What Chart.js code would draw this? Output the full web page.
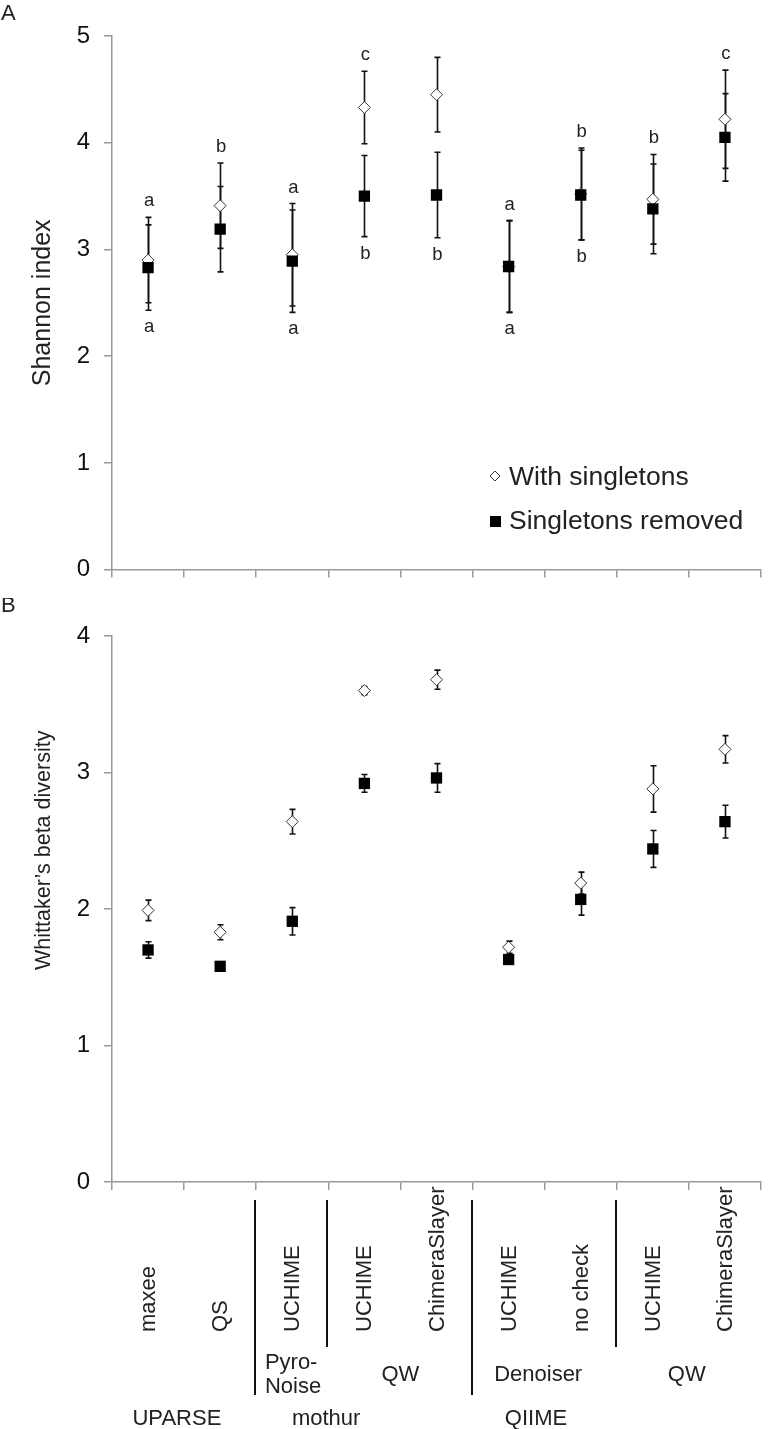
<!DOCTYPE html>
<html>
<head>
<meta charset="utf-8">
<title>Shannon index and Whittaker's beta diversity</title>
<script src="https://cdn.jsdelivr.net/npm/chart.js@4/dist/chart.umd.min.js"></script>
<style>
  body { margin: 0; background: #fff; }
  #wrap { position: relative; width: 769px; height: 1429px; }
  canvas { position: absolute; left: 0; }
  #shannonChart { top: 0; }
  #betaChart { top: 598px; }
</style>
</head>
<body>
<div id="wrap">
  <canvas id="shannonChart" width="769" height="598"></canvas>
  <canvas id="betaChart" width="769" height="831"></canvas>
</div>
<script>
// Data
const categories = ['maxee', 'QS', 'UCHIME', 'UCHIME', 'ChimeraSlayer', 'UCHIME', 'no check', 'UCHIME', 'ChimeraSlayer'];
const subgroupNames = ['Pyro-\nNoise', 'QW', 'Denoiser', 'QW'];
const pipelineNames = ['UPARSE', 'mothur', 'QIIME'];

// A: Shannon index
const shannonWith = [2.90, 3.41, 2.95, 4.33, 4.45, 2.84, 3.52, 3.47, 4.22];
const shannonWithErr = [0.40, 0.40, 0.48, 0.34, 0.35, 0.43, 0.43, 0.42, 0.46];
const shannonRemoved = [2.83, 3.19, 2.89, 3.50, 3.51, 2.84, 3.51, 3.38, 4.05];
const shannonRemovedErr = [0.40, 0.40, 0.48, 0.38, 0.40, 0.43, 0.42, 0.42, 0.41];
const lettersAbove = ['a', 'b', 'a', 'c', '', 'a', 'b', 'b', 'c'];
const lettersBelow = ['a', '', 'a', 'b', 'b', 'a', 'b', '', ''];

// B: Whittaker's beta diversity
const betaWith = [1.99, 1.83, 2.64, 3.60, 3.68, 1.72, 2.19, 2.88, 3.17];
const betaWithErr = [0.075, 0.055, 0.09, 0.03, 0.07, 0.045, 0.08, 0.17, 0.10];
const betaRemoved = [1.70, 1.58, 1.91, 2.92, 2.96, 1.63, 2.07, 2.44, 2.64];
const betaRemovedErr = [0.06, 0.02, 0.10, 0.065, 0.105, 0.03, 0.115, 0.135, 0.12];

const FONT = "'Liberation Sans', Arial, sans-serif";
const TEXT = '#222';
const AXIS = '#9a9a9a';

// error bars go under the markers
const errorBars = {
    id: 'errorBars',
    beforeDatasetsDraw(chart) {
        const { ctx } = chart;
        const x = chart.scales.x, y = chart.scales.y;
        ctx.save();
        ctx.strokeStyle = '#111';
        ctx.lineWidth = 1.6;
        chart.data.datasets.forEach(ds => {
            ds.data.forEach((v, i) => {
                const e = ds.errors[i];
                const px = Math.round(x.getPixelForValue(i)) + 0.5;
                const top = y.getPixelForValue(v + e);
                const bot = y.getPixelForValue(v - e);
                ctx.beginPath();
                ctx.moveTo(px, top); ctx.lineTo(px, bot);
                ctx.moveTo(px - 3, top); ctx.lineTo(px + 3, top);
                ctx.moveTo(px - 3, bot); ctx.lineTo(px + 3, bot);
                ctx.stroke();
            });
        });
        ctx.restore();
    }
};

// panel letter + rotated y title
const panelText = {
    id: 'panelText',
    afterDraw(chart, args, opts) {
        const { ctx } = chart;
        const y = chart.scales.y;
        ctx.save();
        ctx.fillStyle = TEXT;
        ctx.font = `22px ${FONT}`;
        ctx.textAlign = 'left';
        ctx.textBaseline = 'alphabetic';
        ctx.fillText(opts.letter, 1, opts.letterY);

        ctx.font = `${opts.titleSize}px ${FONT}`;
        ctx.translate(opts.titleX, y.getPixelForValue(opts.titleAt));
        ctx.rotate(-Math.PI / 2);
        ctx.textAlign = 'center';
        ctx.fillText(opts.title, 0, 0);
        ctx.restore();
    }
};

// a/b/c letters of panel A
const sigLetters = {
    id: 'sigLetters',
    afterDraw(chart) {
        const { ctx } = chart;
        const x = chart.scales.x, y = chart.scales.y;
        ctx.save();
        ctx.fillStyle = TEXT;
        ctx.font = `18.5px ${FONT}`;
        ctx.textAlign = 'center';
        ctx.textBaseline = 'alphabetic';
        categories.forEach((c, i) => {
            const px = x.getPixelForValue(i) + 1;
            const hi = Math.max(shannonWith[i] + shannonWithErr[i], shannonRemoved[i] + shannonRemovedErr[i]);
            const lo = Math.min(shannonWith[i] - shannonWithErr[i], shannonRemoved[i] - shannonRemovedErr[i]);
            if (lettersAbove[i]) ctx.fillText(lettersAbove[i], px, y.getPixelForValue(hi) - 11);
            if (lettersBelow[i]) ctx.fillText(lettersBelow[i], px, y.getPixelForValue(lo) + 22);
        });
        ctx.restore();
    }
};

// legend sits inside the plot area of A
const insideLegend = {
    id: 'insideLegend',
    afterDraw(chart) {
        const { ctx, chartArea } = chart;
        const lx = chartArea.left + 383, ly = chartArea.top + 440;
        ctx.save();
        // diamond
        ctx.beginPath();
        ctx.moveTo(lx - 5, ly); ctx.lineTo(lx, ly - 5);
        ctx.lineTo(lx + 5, ly); ctx.lineTo(lx, ly + 5);
        ctx.closePath();
        ctx.fillStyle = '#fff'; ctx.fill();
        ctx.strokeStyle = '#333'; ctx.lineWidth = 1; ctx.stroke();
        // square
        ctx.fillStyle = '#000';
        ctx.fillRect(lx - 5, ly + 40, 11, 11);

        ctx.fillStyle = TEXT;
        ctx.font = `26.5px ${FONT}`;
        ctx.textAlign = 'left';
        ctx.textBaseline = 'alphabetic';
        ctx.fillText('With singletons', lx + 14, ly + 9);
        ctx.fillText('Singletons removed', lx + 14, ly + 53);
        ctx.restore();
    }
};

// method / pipeline labels under panel B
const methodLabels = {
    id: 'methodLabels',
    afterDraw(chart) {
        const { ctx, chartArea } = chart;
        const x = chart.scales.x;
        const b = chartArea.bottom;
        ctx.save();
        ctx.fillStyle = TEXT;

        // rotated method names
        ctx.font = `22px ${FONT}`;
        ctx.textAlign = 'left';
        ctx.textBaseline = 'middle';
        categories.forEach((c, i) => {
            ctx.save();
            ctx.translate(x.getPixelForValue(i) + 1, b + 150);
            ctx.rotate(-Math.PI / 2);
            ctx.fillText(c, 0, 0);
            ctx.restore();
        });

        // group separators: after index, long or short
        const seps = [[1, 213], [2, 165], [4, 213], [6, 165]];
        ctx.strokeStyle = '#111';
        ctx.lineWidth = 2;
        seps.forEach(([i, len]) => {
            const px = Math.round((x.getPixelForValue(i) + x.getPixelForValue(i + 1)) / 2) - 1;
            ctx.beginPath();
            ctx.moveTo(px, b + 18);
            ctx.lineTo(px, b + len);
            ctx.stroke();
        });

        // second level
        ctx.font = `22px ${FONT}`;
        const subAt = [1.62, 3.5, 5.41, 7.47];
        subgroupNames.forEach((name, k) => {
            const lines = name.split('\n');
            const px = x.getPixelForValue(subAt[k]);
            ctx.textAlign = lines.length > 1 ? 'left' : 'center';
            lines.forEach((ln, j) => {
                const off = (j - (lines.length - 1) / 2) * 24;
                ctx.fillText(ln, px, b + 193 + off);
            });
        });

        // pipelines
        const pipeAt = [0.40, 2.47, 5.38];
        ctx.textAlign = 'center';
        pipelineNames.forEach((name, k) => {
            ctx.fillText(name, x.getPixelForValue(pipeAt[k]), b + 237);
        });
        ctx.restore();
    }
};

function buildChart(canvasId, withVals, withErr, remVals, remErr, yMax, extra) {
    const xScale = {
        type: 'category',
        offset: true,
        ticks: { display: false },
        grid: { offset: true, drawOnChartArea: false, drawTicks: true, tickLength: 8, color: AXIS, lineWidth: 1.5 },
        border: { display: true, color: AXIS, width: 1.5 },
        afterFit: s => { s.height = extra.xHeight; }
    };
    const yScale = {
        min: 0,
        max: yMax,
        ticks: { stepSize: 1, color: '#111', font: { family: FONT, size: 24 }, padding: 14 },
        grid: { drawOnChartArea: false, drawTicks: true, tickLength: 8, color: AXIS, lineWidth: 1.5 },
        border: { display: true, color: AXIS, width: 1.5 },
        afterFit: s => { s.width = 112; }
    };
    return new Chart(document.getElementById(canvasId), {
        type: 'line',
        data: {
            labels: categories,
            datasets: [
                {
                    label: 'With singletons',
                    data: withVals,
                    errors: withErr,
                    showLine: false,
                    pointStyle: 'rectRot',
                    pointRadius: 6,
                    backgroundColor: '#fff',
                    borderColor: '#333',
                    borderWidth: 1,
                    order: 2
                },
                {
                    label: 'Singletons removed',
                    data: remVals,
                    errors: remErr,
                    showLine: false,
                    pointStyle: 'rect',
                    pointRadius: 8,
                    backgroundColor: '#000',
                    borderColor: '#000',
                    borderWidth: 0,
                    order: 1
                }
            ]
        },
        options: {
            responsive: false,
            animation: false,
            devicePixelRatio: 1,
            events: [],
            layout: { padding: { left: 0, right: 2, top: extra.top, bottom: 0 } },
            scales: { x: xScale, y: yScale },
            plugins: {
                legend: { display: false },
                tooltip: { enabled: false },
                panelText: extra.panel
            }
        },
        plugins: [errorBars, panelText].concat(extra.plugins)
    });
}

buildChart('shannonChart', shannonWith, shannonWithErr, shannonRemoved, shannonRemovedErr, 5, {
    top: 36,
    xHeight: 15,
    panel: { letter: 'A', letterY: 20, title: 'Shannon index', titleSize: 25, titleX: 50, titleAt: 2.5 },
    plugins: [sigLetters, insideLegend]
});

buildChart('betaChart', betaWith, betaWithErr, betaRemoved, betaRemovedErr, 4, {
    top: 38,
    xHeight: 247,
    panel: { letter: 'B', letterY: 14, title: 'Whittaker\u2019s beta diversity', titleSize: 21.5, titleX: 50, titleAt: 2.43 },
    plugins: [methodLabels]
});
</script>
</body>
</html>
